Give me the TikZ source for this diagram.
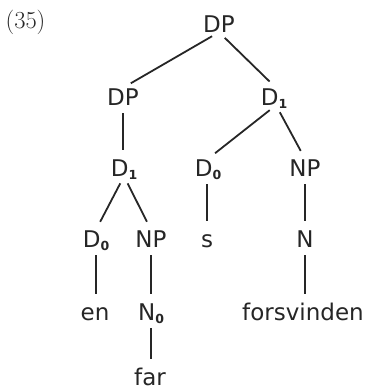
\documentclass[tikz,border=0pt]{standalone}
\usepackage{fontspec}
\newfontfamily\treefont{DejaVu Sans}
\definecolor{ink}{HTML}{262626}
\newcommand{\subidx}[1]{\raisebox{-3.5pt}{\fontsize{12.5}{12.5}\selectfont\bfseries #1}}
\tikzset{
  cat/.style={anchor=base, inner sep=0pt, text height=17pt, text depth=0pt,
              font=\treefont\fontsize{23}{27}\selectfont, text=ink},
  branch/.style={draw=ink, line width=1.8pt, shorten <=8pt, shorten >=9pt}
}
\begin{document}
\begin{tikzpicture}[x=1pt, y=-1pt]
\useasboundingbox (0,0) rectangle (365,391);
% example number
\node[anchor=base, inner sep=0pt, text=ink, font=\fontsize{24.5}{28}\selectfont] (num) at (25.5,28) {(35)};
% tree nodes
\node[cat] (dp)   at (219,32)  {DP};
\node[cat] (dpa)  at (123,105) {DP};
\node[cat] (dbar) at (274,105) {D\subidx{1}};
\node[cat] (dbl)  at (124,176) {D\subidx{1}};
\node[cat] (dzm)  at (208,176) {D\subidx{0}};
\node[cat] (npr)  at (305,176) {NP};
\node[cat] (dzl)  at (96,247)  {D\subidx{0}};
\node[cat] (npl)  at (151,247) {NP};
\node[cat] (s)    at (207,247) {s};
\node[cat] (n)    at (305,247) {N};
\node[cat] (en)   at (95,320)  {en};
\node[cat] (nz)   at (151,320) {N\subidx{0}};
\node[cat] (forsv) at (303,320) {forsvinden};
\node[cat] (far)  at (150,385) {far};
% branches
\draw[branch] (dp.south) -- (dpa.north);
\draw[branch] (dp.south) -- ([xshift=2pt]dbar.north);
\draw[branch] (dpa.south) -- (dpa.south |- dbl.north);
\draw[branch] ([xshift=2pt]dbar.south) -- (dzm.north);
\draw[branch] ([xshift=2pt]dbar.south) -- (npr.north);
\draw[branch] (dbl.south) -- (dzl.north);
\draw[branch] (dbl.south) -- (npl.north);
\draw[branch] (s.north |- dzm.south) -- (s.north);
\draw[branch] (npr.south) -- (n.north);
\draw[branch] (dzl.south) -- (dzl.south |- en.north);
\draw[branch] (npl.south) -- (npl.south |- nz.north);
\draw[branch] (n.south) -- (n.south |- forsv.north);
\draw[branch] (npl.south |- nz.south) -- (npl.south |- far.north);
\end{tikzpicture}
\end{document}
